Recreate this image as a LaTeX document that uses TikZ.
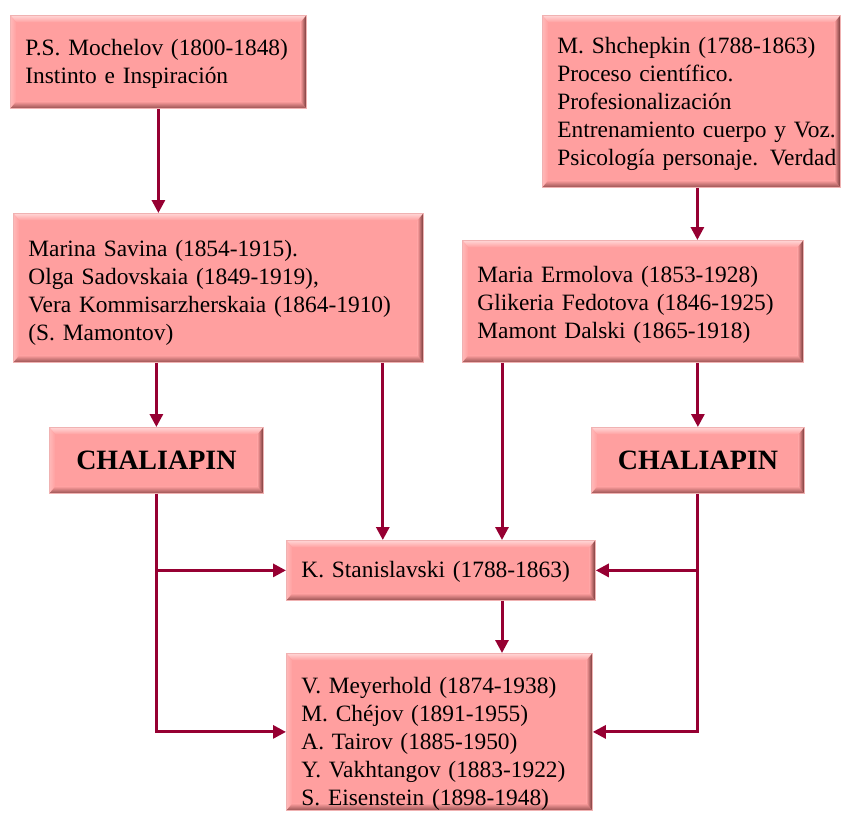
\documentclass[tikz,border=0pt]{standalone}
\usepackage{fontspec}
\setmainfont{Liberation Serif}
\usetikzlibrary{arrows.meta}

\definecolor{boxfill}{RGB}{255,159,159}
\definecolor{boxline}{RGB}{240,178,178}
\definecolor{bevtop}{RGB}{255,214,214}
\definecolor{bevleft}{RGB}{255,185,185}
\definecolor{bevright}{RGB}{112,52,52}
\definecolor{bevbot}{RGB}{150,80,80}
\definecolor{linkred}{RGB}{150,0,50}

% lines of a panel, never broken, optionally dropped a little
\newcommand{\boxlines}[2][0pt]{%
    \raisebox{-#1}[\height][\depth]{\begin{tabular}{@{}l@{}}#2\end{tabular}}}

\begin{document}
\begin{tikzpicture}[
    x=0.5pt, y=-0.5pt,
    panel/.style={
        rectangle,
        anchor=north west,
        fill=boxfill,
        draw=boxline,
        line width=0.4pt,
        inner xsep=7.5pt,
        inner ysep=0pt,
        align=left,
        font=\fontsize{11.7}{14}\selectfont,
        path picture={
            \path (path picture bounding box.north west) coordinate (bnw)
                  (path picture bounding box.north east) coordinate (bne)
                  (path picture bounding box.south east) coordinate (bse)
                  (path picture bounding box.south west) coordinate (bsw);
            \shade[top color=bevtop, bottom color=boxfill]
                (bnw) -- (bne) -- ([shift={(-3pt,-3.5pt)}]bne) -- ([shift={(3pt,-3.5pt)}]bnw) -- cycle;
            \shade[left color=bevleft, right color=boxfill]
                (bnw) -- ([shift={(3pt,-3.5pt)}]bnw) -- ([shift={(3pt,3.5pt)}]bsw) -- (bsw) -- cycle;
            \shade[left color=boxfill, right color=bevright]
                (bne) -- (bse) -- ([shift={(-3pt,3.5pt)}]bse) -- ([shift={(-3pt,-3.5pt)}]bne) -- cycle;
            \shade[top color=boxfill, bottom color=bevbot]
                (bsw) -- ([shift={(3pt,3.5pt)}]bsw) -- ([shift={(-3pt,3.5pt)}]bse) -- (bse) -- cycle;
        },
    },
    chalbox/.style={
        panel,
        inner xsep=0pt,
        align=center,
        font=\fontsize{14}{16}\selectfont\bfseries,
    },
    link/.style={
        draw=linkred,
        line width=1.5pt,
        -{Triangle[width=6.5pt,length=6.5pt]},
    },
]

    \useasboundingbox (0,0) rectangle (852,821);

    \node[panel, text width=133pt, minimum height=46.5pt] (moch) at (10,15)
        {\boxlines[1pt]{P.S. Mochelov (1800-1848)\\Instinto e Inspiración}};
    \node[panel, text width=134pt, minimum height=86pt] (shch) at (542,15)
        {\boxlines[1pt]{M. Shchepkin (1788-1863)\\Proceso científico.\\Profesionalización\\
         Entrenamiento cuerpo y Voz.\\Psicología personaje. Verdad}};
    \node[panel, text width=190pt, minimum height=74.5pt] (savina) at (13,213)
        {\boxlines[2.5pt]{Marina Savina (1854-1915).\\Olga Sadovskaia (1849-1919),\\
         Vera Kommisarzherskaia (1864-1910)\\(S. Mamontov)}};
    \node[panel, text width=155.5pt, minimum height=61pt] (ermo) at (462,240)
        {\boxlines[1.5pt]{Maria Ermolova (1853-1928)\\Glikeria Fedotova (1846-1925)\\Mamont Dalski (1865-1918)}};
    \node[chalbox, text width=107pt, minimum height=33pt] (chalL) at (49,427) {CHALIAPIN};
    \node[chalbox, text width=106.5pt, minimum height=33pt] (chalR) at (591,427) {CHALIAPIN};
    \node[panel, text width=139.5pt, minimum height=30pt] (stan) at (286,540)
        {\boxlines[0.5pt]{K. Stanislavski (1788-1863)}};
    \node[panel, text width=138pt, minimum height=78.5pt] (meyer) at (286,653)
        {\boxlines[6pt]{V. Meyerhold (1874-1938)\\M. Chéjov (1891-1955)\\A. Tairov (1885-1950)\\
         Y. Vakhtangov (1883-1922)\\S. Eisenstein (1898-1948)}};

    \coordinate (sh1) at ([xshift=3pt]shch.south);
    \coordinate (sv1) at ([xshift=-20.5pt]savina.south east);
    \coordinate (er1) at ([xshift=20pt]ermo.south west);

    \draw[link] (moch.south) -- (moch.south |- savina.north);
    \draw[link] (sh1) -- (sh1 |- ermo.north);
    \draw[link] (chalL.north |- savina.south) -- (chalL.north);
    \draw[link] (chalR.north |- ermo.south) -- (chalR.north);
    \draw[link] (sv1) -- (sv1 |- stan.north);
    \draw[link] (er1) -- (er1 |- stan.north);
    \draw[link] (er1 |- stan.south) -- (er1 |- meyer.north);

    \draw[link] (chalL.south) -- (chalL.south |- meyer.west) -- (meyer.west);
    \draw[link] (chalL.south |- stan.west) -- (stan.west);
    \draw[link] (chalR.south) -- (chalR.south |- meyer.east) -- (meyer.east);
    \draw[link] (chalR.south |- stan.east) -- (stan.east);

\end{tikzpicture}
\end{document}
